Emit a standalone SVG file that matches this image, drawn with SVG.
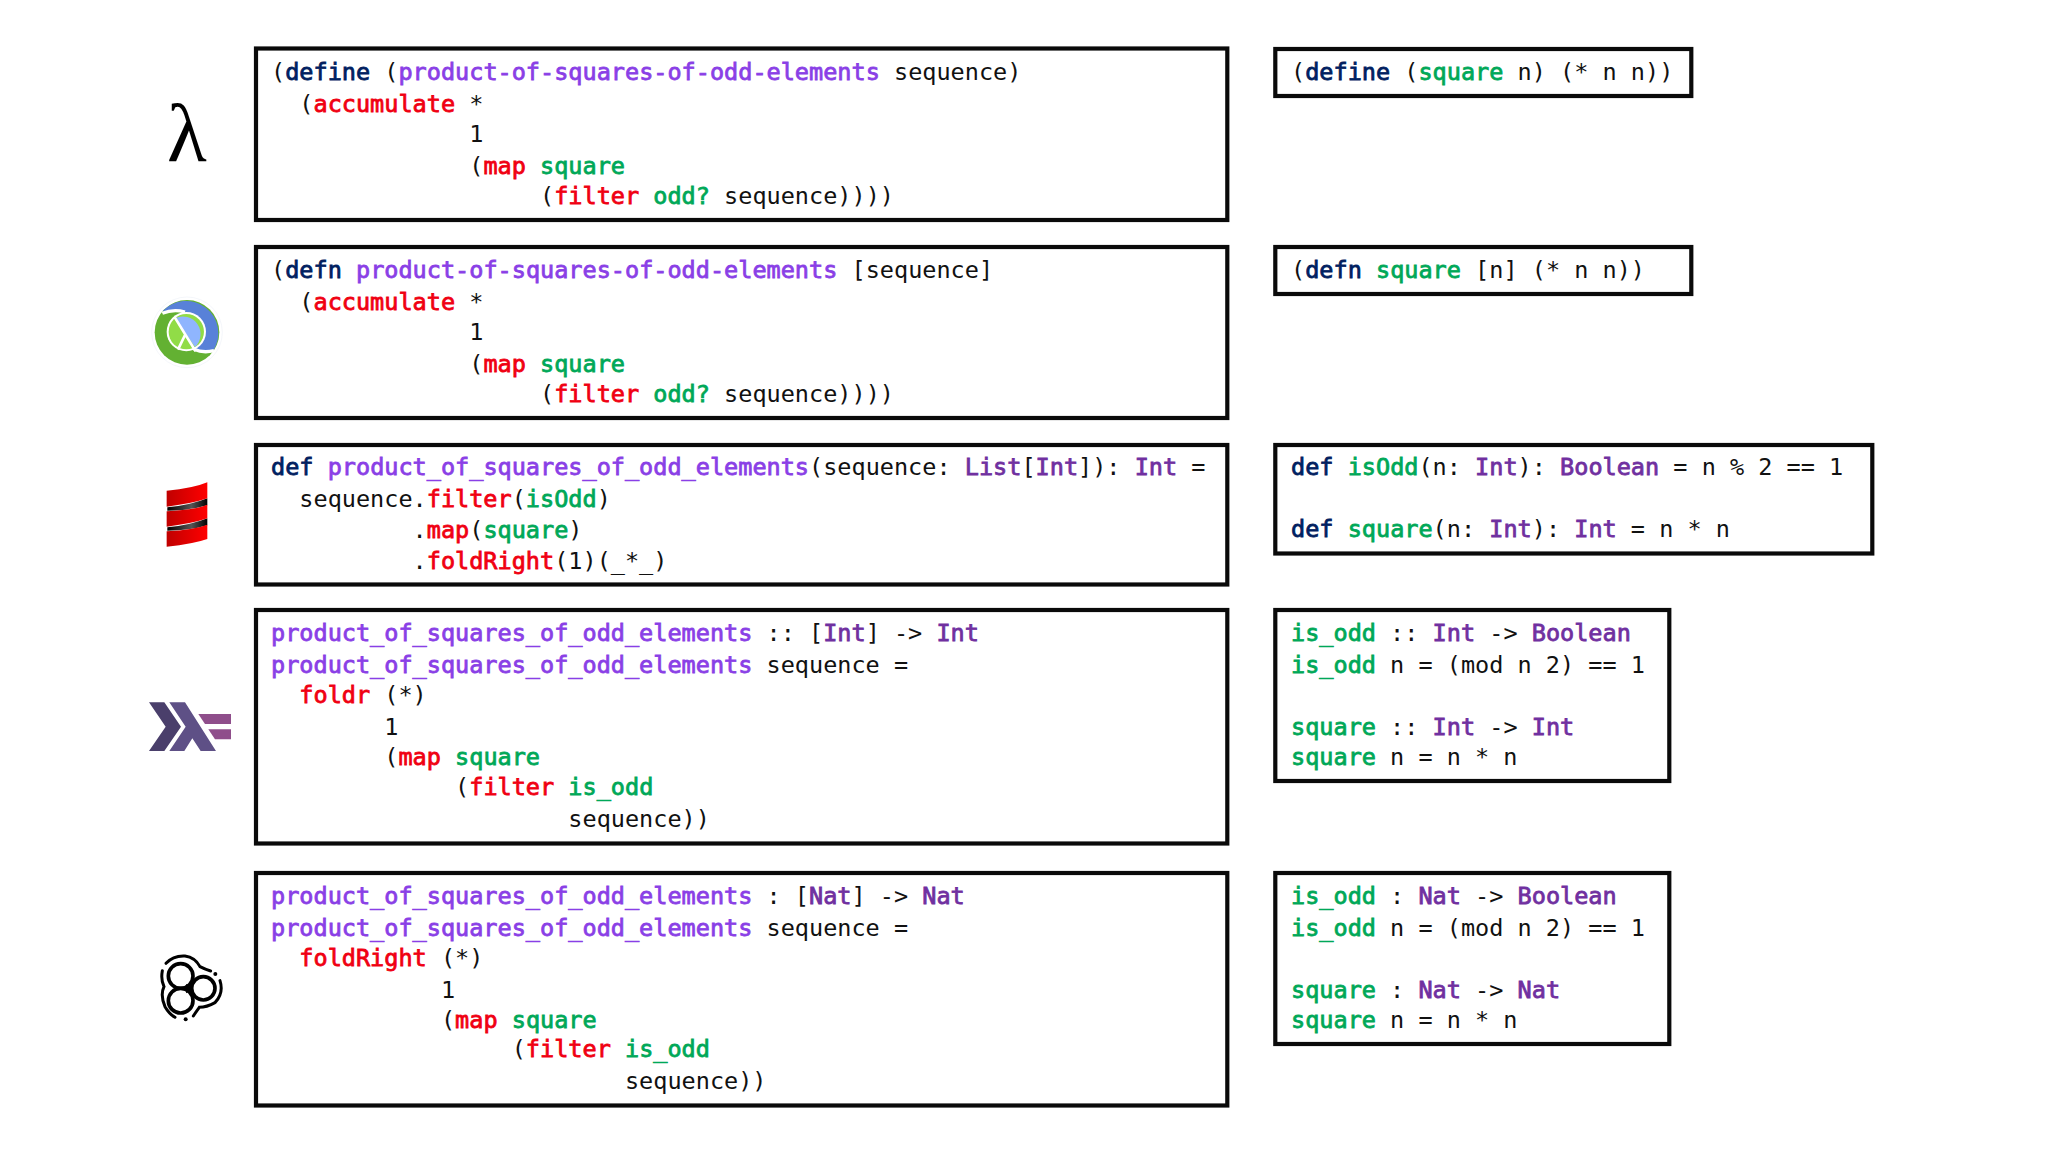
<svg xmlns="http://www.w3.org/2000/svg" width="2048" height="1152" viewBox="0 0 2048 1152">
<style>
text{font-family:"DejaVu Sans Mono","Liberation Mono",monospace;font-size:23.52px;fill:#111;white-space:pre;transform:translateY(-.7px)}
.k{fill:#002060;stroke:#002060;stroke-width:.8}
.f{fill:#8A3FE6;stroke:#8A3FE6;stroke-width:.8}
.r{fill:#F00012;stroke:#F00012;stroke-width:.8}
.g{fill:#00A858;stroke:#00A858;stroke-width:.8}
.t{fill:#7030A0;stroke:#7030A0;stroke-width:.8}
.b{fill:#fff;stroke:#0a0a0a;stroke-width:4.2}
.o{fill:none;stroke:#000;stroke-width:9;stroke-linecap:round}
.c{fill:#fff;stroke:#000;stroke-width:11}
</style>
<defs>
<linearGradient id="red" x1="0" x2="1" y1="0" y2="0"><stop offset="0" stop-color="#C00000"/><stop offset="1" stop-color="#FF0000"/></linearGradient>
<linearGradient id="dark" x1="0" x2="1" y1="0" y2="0"><stop offset="0" stop-color="#000"/><stop offset=".6" stop-color="#555"/><stop offset="1" stop-color="#000"/></linearGradient>
</defs>
<rect width="2048" height="1152" fill="#fff"/>

<g id="logo-lambda"><text x="167" y="162" style="font-family:'Liberation Serif',serif;font-size:82px;fill:#000">λ</text></g>

<g id="logo-clojure" transform="translate(130 280) scale(.3333)">
<circle cx="171" cy="157" r="106" fill="#fff" stroke="#eef2f8" stroke-width="2"/>
<circle cx="171" cy="157" r="97" fill="#63B132"/>
<path d="M97 94A97 97 0 0 1 250 212Q222 216 196 206L225 150L170 96Q130 90 97 94Z" fill="#5881D8"/>
<circle cx="169" cy="155" r="59" fill="#fff"/>
<path d="M97 100Q130 86 165 96" fill="none" stroke="#fff" stroke-width="10"/>
<path d="M192 208Q220 220 252 212" fill="none" stroke="#fff" stroke-width="10"/>
<circle cx="169" cy="155" r="53" fill="#91DC47"/>
<path d="M135 115A53 53 0 0 1 195 201Z" fill="#8FB5FE"/>
<path d="M133 110L197 214M165 165L144 209" fill="none" stroke="#fff" stroke-width="8"/>
</g>

<g id="logo-scala" transform="translate(130 280) scale(.3333)">
<path d="M112 682Q180 676 232 655V676Q180 692 112 692Z" fill="url(#dark)"/>
<path d="M112 742Q180 736 232 715V736Q180 752 112 752Z" fill="url(#dark)"/>
<path d="M110 632Q190 625 232 607V655Q190 670 110 680Z" fill="url(#red)"/>
<path d="M110 694Q190 690 232 674V715Q190 730 110 740Z" fill="url(#red)"/>
<path d="M110 754Q190 750 232 734V777Q190 792 110 800Z" fill="url(#red)"/>
</g>

<g id="logo-haskell" transform="translate(130 680) scale(.3333)">
<path d="M57 67H103L153 140L103 213H57L107 140Z" fill="#4A3F6B"/>
<path d="M118 67H165L258 213H212L187 175L163 213H118L167 140Z" fill="#5E5086"/>
<path d="M205 102H303V132H225Z" fill="#8F4E8B"/>
<path d="M235 148H303V178H255Z" fill="#8F4E8B"/>
</g>

<g id="logo-unison" transform="translate(140 940) scale(.3333)">
<circle class="c" cx="122" cy="108" r="37"/>
<circle class="c" cx="190" cy="145" r="35"/>
<circle class="c" cx="122" cy="182" r="37"/>
<path d="M138 132L160 145L138 160Z" fill="#000"/>
<path class="o" d="M78 70Q100 46 135 48Q165 52 180 80Q195 88 212 93"/>
<path class="o" d="M67 92Q62 120 72 140Q60 165 75 200Q88 222 105 232"/>
<path class="o" d="M240 122Q252 160 225 188Q200 202 178 202Q165 220 160 228"/>
<circle cx="226" cy="102" r="6"/><circle cx="137" cy="238" r="6"/>
</g>

<g id="box-scheme-product">
<rect class="b" x="256" y="48.5" width="971.3" height="171.5"/>
<text x="271" y="80.5">(<tspan class="k">define</tspan> (<tspan class="f">product-of-squares-of-odd-elements</tspan> sequence)</text>
<text x="271" y="112.5">  (<tspan class="r">accumulate</tspan> *</text>
<text x="271" y="142.5">              1</text>
<text x="271" y="174.5">              (<tspan class="r">map</tspan> <tspan class="g">square</tspan></text>
<text x="271" y="204.5">                   (<tspan class="r">filter</tspan> <tspan class="g">odd?</tspan> sequence))))</text>
</g>

<g id="box-clojure-product">
<rect class="b" x="256" y="247" width="971.3" height="171"/>
<text x="271" y="279">(<tspan class="k">defn</tspan> <tspan class="f">product-of-squares-of-odd-elements</tspan> [sequence]</text>
<text x="271" y="310.5">  (<tspan class="r">accumulate</tspan> *</text>
<text x="271" y="340.5">              1</text>
<text x="271" y="372.5">              (<tspan class="r">map</tspan> <tspan class="g">square</tspan></text>
<text x="271" y="402.5">                   (<tspan class="r">filter</tspan> <tspan class="g">odd?</tspan> sequence))))</text>
</g>

<g id="box-scala-product">
<rect class="b" x="256" y="445" width="971.3" height="139.5"/>
<text x="271" y="476"><tspan class="k">def</tspan> <tspan class="f">product_of_squares_of_odd_elements</tspan>(sequence: <tspan class="t">List</tspan>[<tspan class="t">Int</tspan>]): <tspan class="t">Int</tspan> =</text>
<text x="271" y="508">  sequence.<tspan class="r">filter</tspan>(<tspan class="g">isOdd</tspan>)</text>
<text x="271" y="538.5">          .<tspan class="r">map</tspan>(<tspan class="g">square</tspan>)</text>
<text x="271" y="569.5">          .<tspan class="r">foldRight</tspan>(1)(_*_)</text>
</g>

<g id="box-haskell-product">
<rect class="b" x="256" y="610" width="971.3" height="233.5"/>
<text x="271" y="642"><tspan class="f">product_of_squares_of_odd_elements</tspan> :: [<tspan class="t">Int</tspan>] -&gt; <tspan class="t">Int</tspan></text>
<text x="271" y="674"><tspan class="f">product_of_squares_of_odd_elements</tspan> sequence =</text>
<text x="271" y="703.5">  <tspan class="r">foldr</tspan> (*)</text>
<text x="271" y="736">        1</text>
<text x="271" y="766">        (<tspan class="r">map</tspan> <tspan class="g">square</tspan></text>
<text x="271" y="795.5">             (<tspan class="r">filter</tspan> <tspan class="g">is_odd</tspan></text>
<text x="271" y="828">                     sequence))</text>
</g>

<g id="box-unison-product">
<rect class="b" x="256" y="873" width="971.3" height="232.5"/>
<text x="271" y="904.5"><tspan class="f">product_of_squares_of_odd_elements</tspan> : [<tspan class="t">Nat</tspan>] -&gt; <tspan class="t">Nat</tspan></text>
<text x="271" y="937"><tspan class="f">product_of_squares_of_odd_elements</tspan> sequence =</text>
<text x="271" y="966.5">  <tspan class="r">foldRight</tspan> (*)</text>
<text x="271" y="998.5">            1</text>
<text x="271" y="1028.5">            (<tspan class="r">map</tspan> <tspan class="g">square</tspan></text>
<text x="271" y="1058">                 (<tspan class="r">filter</tspan> <tspan class="g">is_odd</tspan></text>
<text x="271" y="1090">                         sequence))</text>
</g>

<g id="box-scheme-square">
<rect class="b" x="1275.3" y="49" width="416" height="47"/>
<text x="1291" y="81">(<tspan class="k">define</tspan> (<tspan class="g">square</tspan> n) (* n n))</text>
</g>

<g id="box-clojure-square">
<rect class="b" x="1275.3" y="247" width="416" height="47"/>
<text x="1291" y="279">(<tspan class="k">defn</tspan> <tspan class="g">square</tspan> [n] (* n n))</text>
</g>

<g id="box-scala-helpers">
<rect class="b" x="1275.3" y="445" width="597" height="108.5"/>
<text x="1291" y="476"><tspan class="k">def</tspan> <tspan class="g">isOdd</tspan>(n: <tspan class="t">Int</tspan>): <tspan class="t">Boolean</tspan> = n % 2 == 1</text>
<text x="1291" y="538"><tspan class="k">def</tspan> <tspan class="g">square</tspan>(n: <tspan class="t">Int</tspan>): <tspan class="t">Int</tspan> = n * n</text>
</g>

<g id="box-haskell-helpers">
<rect class="b" x="1275.3" y="610" width="394" height="171"/>
<text x="1291" y="642"><tspan class="g">is_odd</tspan> :: <tspan class="t">Int</tspan> -&gt; <tspan class="t">Boolean</tspan></text>
<text x="1291" y="674"><tspan class="g">is_odd</tspan> n = (mod n 2) == 1</text>
<text x="1291" y="736"><tspan class="g">square</tspan> :: <tspan class="t">Int</tspan> -&gt; <tspan class="t">Int</tspan></text>
<text x="1291" y="766"><tspan class="g">square</tspan> n = n * n</text>
</g>

<g id="box-unison-helpers">
<rect class="b" x="1275.3" y="873" width="394" height="171"/>
<text x="1291" y="904.5"><tspan class="g">is_odd</tspan> : <tspan class="t">Nat</tspan> -&gt; <tspan class="t">Boolean</tspan></text>
<text x="1291" y="937"><tspan class="g">is_odd</tspan> n = (mod n 2) == 1</text>
<text x="1291" y="998.5"><tspan class="g">square</tspan> : <tspan class="t">Nat</tspan> -&gt; <tspan class="t">Nat</tspan></text>
<text x="1291" y="1028.5"><tspan class="g">square</tspan> n = n * n</text>
</g>

<g id="connectors"/>
</svg>
